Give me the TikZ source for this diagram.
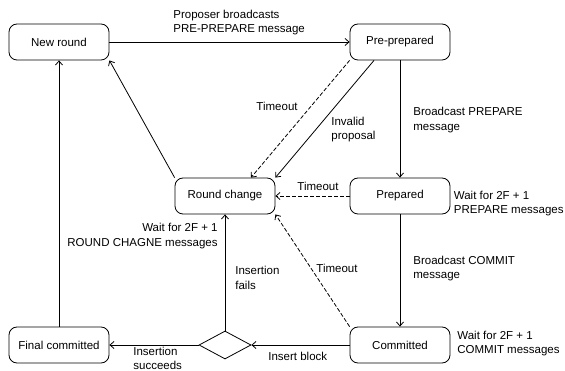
\documentclass[tikz,border=0pt]{standalone}
\usepackage{fontspec}
\setmainfont{Liberation Sans}
\usetikzlibrary{arrows.meta,shapes.geometric}

\begin{document}
\begin{tikzpicture}[x=1pt,y=-1pt,
    >={Straight Barb[length=4pt,width=7pt]},
    every path/.style={line width=0.8pt},
    state/.style={draw, rounded corners=8pt, minimum width=100pt,
      minimum height=36pt, inner sep=0pt, font=\fontsize{11.5}{14.5}\selectfont},
    choice/.style={draw, diamond, minimum width=52pt, minimum height=28pt,
      inner sep=0pt},
    lbl/.style={inner sep=0pt, align=left, font=\fontsize{11.5}{14.5}\selectfont},
    tmo/.style={dash pattern=on 4pt off 2pt}]
  \useasboundingbox (0,0) rectangle (565,371);

  % states
  \node[state] (nr) at (59,42) {New round};
  \node[state] (pp) at (400,42) {Pre-prepared};
  \node[state] (rc) at (225,196) {Round change};
  \node[state] (pd) at (400,196) {Prepared};
  \node[state] (fc) at (59,345) {Final committed};
  \node[state] (cm) at (400,345) {Committed};
  \node[choice] (ins) at (225,345) {};

  % transitions
  \draw[->] (nr) -- (pp);
  \draw[->, tmo] (pp.south west) -- ([xshift=26pt]rc.north);
  \draw[->] ([xshift=-26pt]pp.south) -- (rc.north east);
  \draw[->] (rc.north west) -- (nr.south east);
  \draw[->] (pp) -- (pd);
  \draw[->, tmo] (pd) -- (rc);
  \draw[->] (pd) -- (cm);
  \draw[->, tmo] (cm.north west) -- (rc.south east);
  \draw[->] (cm) -- (ins);
  \draw[->] (ins) -- (fc);
  \draw[->] (ins) -- (rc);
  \draw[->] (fc) -- (nr);

  % labels
  \node[lbl, anchor=west] (l-propose) at (173,22.5) {Proposer broadcasts\\PRE-PREPARE message};
  \node[lbl, anchor=east] (l-tmo-pp) at (298,106) {Timeout};
  \node[lbl, anchor=west] (l-invalid) at (331,129.5) {Invalid\\proposal};
  \node[lbl, anchor=west] (l-prepare) at (413,120) {Broadcast PREPARE\\message};
  \node[lbl] (l-tmo-pd) at (318,186) {Timeout};
  \node[lbl, anchor=west] (l-wait-pd) at (453.5,203.5) {Wait for 2F + 1\\PREPARE messages};
  \node[lbl, anchor=east, align=right] (l-wait-rc) at (218,236) {Wait for 2F + 1\\ROUND CHAGNE messages};
  \node[lbl, anchor=west] (l-fails) at (235,278) {Insertion\\fails};
  \node[lbl, anchor=west] (l-tmo-cm) at (316,268) {Timeout};
  \node[lbl, anchor=west] (l-commit) at (413,268.5) {Broadcast COMMIT\\message};
  \node[lbl, anchor=west] (l-wait-cm) at (457,343.5) {Wait for 2F + 1\\COMMIT messages};
  \node[lbl, anchor=west] (l-insert) at (268,356) {Insert block};
  \node[lbl, anchor=west] (l-success) at (133,358.5) {Insertion\\succeeds};
\end{tikzpicture}
\end{document}
